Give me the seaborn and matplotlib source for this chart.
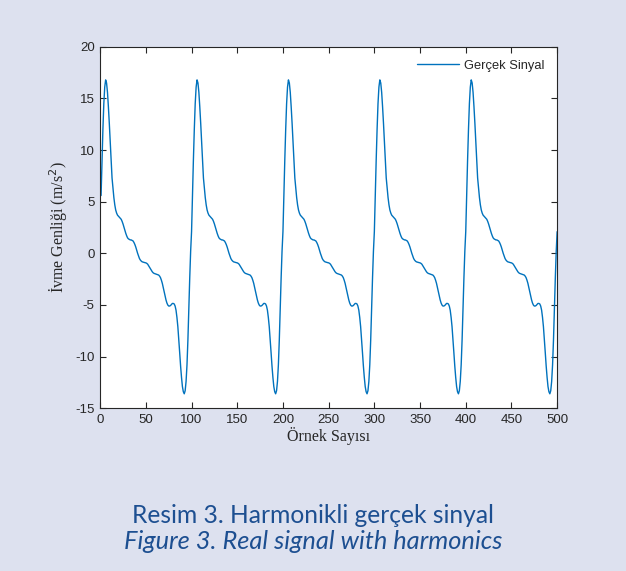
import numpy as np
import pandas as pd
import matplotlib.pyplot as plt
import seaborn as sns

# one period of the signal (samples 1..100)
periodValues = [
    5.6, 9.0, 12.0, 14.5, 16.1, 16.8, 16.5, 15.6, 14.2, 12.6,
    10.8, 9.0, 7.3, 6.3, 5.4, 4.7, 4.2, 3.9, 3.7, 3.6,
    3.5, 3.4, 3.3, 3.1, 2.85, 2.55, 2.25, 1.95, 1.7, 1.5,
    1.4, 1.35, 1.3, 1.3, 1.25, 1.2, 1.05, 0.85, 0.6, 0.3,
    0.0, -0.25, -0.5, -0.65, -0.75, -0.82, -0.85, -0.87, -0.9, -0.92,
    -0.97, -1.05, -1.2, -1.35, -1.5, -1.65, -1.78, -1.88, -1.94, -1.97,
    -2.0, -2.02, -2.05, -2.1, -2.2, -2.35, -2.6, -2.9, -3.3, -3.7,
    -4.1, -4.5, -4.8, -5.0, -5.1, -5.1, -5.05, -4.95, -4.85, -4.85,
    -4.9, -5.1, -5.5, -6.2, -7.1, -8.3, -9.6, -10.9, -12.0, -12.9,
    -13.4, -13.6, -13.3, -12.4, -10.8, -8.4, -5.4, -2.4, 0.2, 2.1,
]
periodCount = 5
xTicks = [0, 50, 100, 150, 200, 250, 300, 350, 400, 450, 500]
yTicks = [-15, -10, -5, 0, 5, 10, 15, 20]

signal = np.tile(periodValues, periodCount)
dataFrame = pd.DataFrame({"Sample": np.arange(1, len(signal) + 1), "Value": signal})

bgColor = "#dde1ef"
captionColor = "#1d4f91"

sns.set_style("ticks")
plt.rcParams["axes.unicode_minus"] = False
fig = plt.figure(figsize=(6.26, 5.71), dpi=100, facecolor=bgColor)
ax = fig.add_axes([0.16, 0.285, 0.73, 0.633])
ax.set_facecolor("white")

sns.lineplot(data=dataFrame, x="Sample", y="Value", ax=ax, color="#0072BD",
             linewidth=1.0, label="Gerçek Sinyal")

ax.set_xlim(0, 500)
ax.set_ylim(-15, 20)
ax.set_xticks(xTicks)
ax.set_yticks(yTicks)
ax.tick_params(direction="in", length=4, width=0.8, top=True, right=True,
               labelsize=9.5, colors="#262626", pad=4)
for tick in ax.get_xticklabels() + ax.get_yticklabels():
    tick.set_fontfamily("Liberation Sans")
for spine in ax.spines.values():
    spine.set_visible(True)
    spine.set_linewidth(0.8)
    spine.set_color("#262626")

ax.set_xlabel("Örnek Sayısı", family="Liberation Serif", fontsize=11.5, labelpad=1)
ax.set_ylabel("İvme Genliği (m/s$^2$)", family="Liberation Serif", fontsize=11.5, labelpad=4)

legend = ax.legend(loc="upper right", frameon=True, handlelength=3.2,
                   prop={"family": "Liberation Sans", "size": 9.3}, borderaxespad=0.6,
                   handletextpad=0.4)
legend.get_frame().set_edgecolor("white")
legend.get_frame().set_alpha(1)

fig.text(0.5, 0.097, "Resim 3. Harmonikli gerçek sinyal", ha="center", va="center",
         fontsize=17.7, color=captionColor, family="Lato")
fig.text(0.5, 0.051, "Figure 3. Real signal with harmonics", ha="center", va="center",
         fontsize=18.3, color=captionColor, family="Lato", style="italic")

plt.savefig("out.png", dpi=100, facecolor=bgColor)
plt.close("all")
